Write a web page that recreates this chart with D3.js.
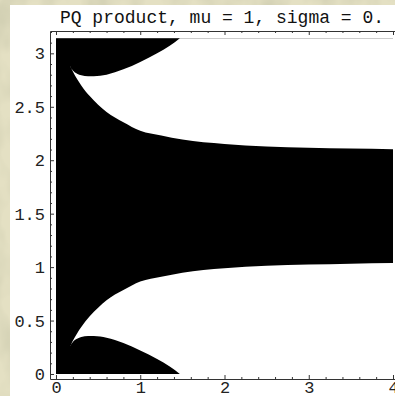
<!DOCTYPE html>
<html>
<head>
<meta charset="utf-8">
<script src="https://cdn.jsdelivr.net/npm/d3@7"></script>
<style>
  html, body { margin: 0; padding: 0; overflow: hidden; }
  svg { display: block; }
  .axis text { font-family: "Liberation Mono", "DejaVu Sans Mono", monospace; font-size: 17px; fill: #222; }
  .axis path, .axis line { stroke: #333; stroke-width: 1; }
</style>
</head>
<body>
<div id="chart"></div>
<script>
// chart values
const title = 'PQ product, mu = 1, sigma = 0.';
const xTicks = [0, 1, 2, 3, 4];
const yTicks = [0, 0.5, 1, 1.5, 2, 2.5, 3];
const xMax = 4;
const yMax = Math.PI;

// main band: lower and upper edge
const bandX     = [0.17, 0.2, 0.25, 0.3, 0.4, 0.5, 0.6, 0.8, 1.0, 1.25, 1.5, 2.0, 2.5, 3.0, 3.5, 4.0];
const bandLower = [0.26, 0.31, 0.38, 0.44, 0.54, 0.62, 0.69, 0.785, 0.865, 0.91, 0.948, 0.99, 1.013, 1.024, 1.032, 1.038];
const bandUpper = [2.88, 2.83, 2.76, 2.70, 2.60, 2.52, 2.452, 2.356, 2.276, 2.231, 2.193, 2.151, 2.128, 2.117, 2.109, 2.103];

// wedges along the top and bottom edges
const wedgeX      = [0.17, 0.2, 0.25, 0.3, 0.38, 0.45, 0.6, 0.8, 1.0, 1.2, 1.35, 1.47];
const wedgeTop    = [2.875, 2.84, 2.81, 2.795, 2.785, 2.786, 2.80, 2.85, 2.92, 3.0, 3.07, 3.1416];
const wedgeBottom = [0.265, 0.30, 0.33, 0.345, 0.355, 0.355, 0.34, 0.29, 0.22, 0.14, 0.07, 0];

const W = 395, H = 396;

const svg = d3.select('#chart').append('svg')
    .attr('width', W).attr('height', H);

// parchment background
const defs = svg.append('defs');
const f = defs.append('filter').attr('id', 'paper')
    .attr('x', 0).attr('y', 0).attr('width', 1).attr('height', 1);
f.append('feTurbulence')
    .attr('type', 'fractalNoise')
    .attr('baseFrequency', '0.035 0.02')
    .attr('numOctaves', 3)
    .attr('seed', 4);
f.append('feColorMatrix')
    .attr('type', 'matrix')
    .attr('values', '0 0 0 0 0.60  0 0 0 0 0.59  0 0 0 0 0.42  1.7 0 0 0 -0.62');

svg.append('rect').attr('width', W).attr('height', H).attr('fill', '#e4e0c3');
svg.append('rect').attr('width', W).attr('height', H).attr('filter', 'url(#paper)');

// white panel
svg.append('rect')
    .attr('x', 10).attr('y', 5)
    .attr('width', W - 10).attr('height', H - 5)
    .attr('fill', '#fff');

// scales: frame sits a few pixels outside the data range
const x = d3.scaleLinear().domain([-0.0712, 4.0712]).range([50, 399]);
const y = d3.scaleLinear().domain([-0.0468, 3.209]).range([379, 31]);

const g = svg.append('g');

// black rectangle, then cut out the two white regions
g.append('rect')
    .attr('x', x(0)).attr('y', y(yMax))
    .attr('width', x(xMax) - x(0))
    .attr('height', y(0) - y(yMax))
    .attr('fill', '#000');

const curve = d3.line().curve(d3.curveMonotoneX).x(d => x(d[0])).y(d => y(d[1]));
const pts = (xs, ys) => xs.map((d, i) => [d, ys[i]]);
const asTail = p => p.replace(/^M/, 'L');

// white region above the band: wedge edge out, band edge back
const upperBack = pts(bandX, bandUpper).reverse();
const topWhite = curve(pts(wedgeX, wedgeTop)) +
    `L${x(xMax)},${y(yMax)}` +
    asTail(curve(upperBack)) + 'Z';

const lowerBack = pts(bandX, bandLower).reverse();
const bottomWhite = curve(pts(wedgeX, wedgeBottom)) +
    `L${x(xMax)},${y(0)}` +
    asTail(curve(lowerBack)) + 'Z';

g.append('path').attr('d', topWhite).attr('fill', '#fff');
g.append('path').attr('d', bottomWhite).attr('fill', '#fff');

// frame with inward ticks
const xMinor = d3.range(0, 4.01, 0.2).filter(v => Math.abs(v - Math.round(v)) > 1e-6);
const yMinor = d3.range(0, 3.21, 0.1).filter(v => Math.abs(v * 2 - Math.round(v * 2)) > 1e-6);

function frameSide(axisFn, scale, transform, majors, minors, labels) {
    const a = svg.append('g').attr('class', 'axis').attr('transform', transform);
    a.call(axisFn(scale).tickValues(majors).tickSizeInner(-4).tickSizeOuter(0)
        .tickPadding(axisFn === d3.axisBottom ? 2 : 5)
        .tickFormat(labels ? d3.format('') : ''));
    const m = svg.append('g').attr('class', 'axis').attr('transform', transform);
    m.call(axisFn(scale).tickValues(minors).tickSizeInner(-2).tickSizeOuter(0).tickFormat(''));
    m.select('.domain').remove();
}

frameSide(d3.axisBottom, x, `translate(0,${y.range()[0]})`, xTicks, xMinor, true);
frameSide(d3.axisTop, x, `translate(0,${y.range()[1]})`, xTicks, xMinor, false);
frameSide(d3.axisLeft, y, `translate(${x.range()[0]},0)`, yTicks, yMinor, true);
frameSide(d3.axisRight, y, `translate(${x.range()[1]},0)`, yTicks, yMinor, false);

svg.selectAll('.axis text').attr('font-size', 17);

// title
svg.append('text')
    .attr('x', 222).attr('y', 23)
    .attr('text-anchor', 'middle')
    .attr('font-family', '"Liberation Mono", "DejaVu Sans Mono", monospace')
    .attr('font-size', 18)
    .attr('fill', '#111')
    .text(title);
</script>
</body>
</html>
